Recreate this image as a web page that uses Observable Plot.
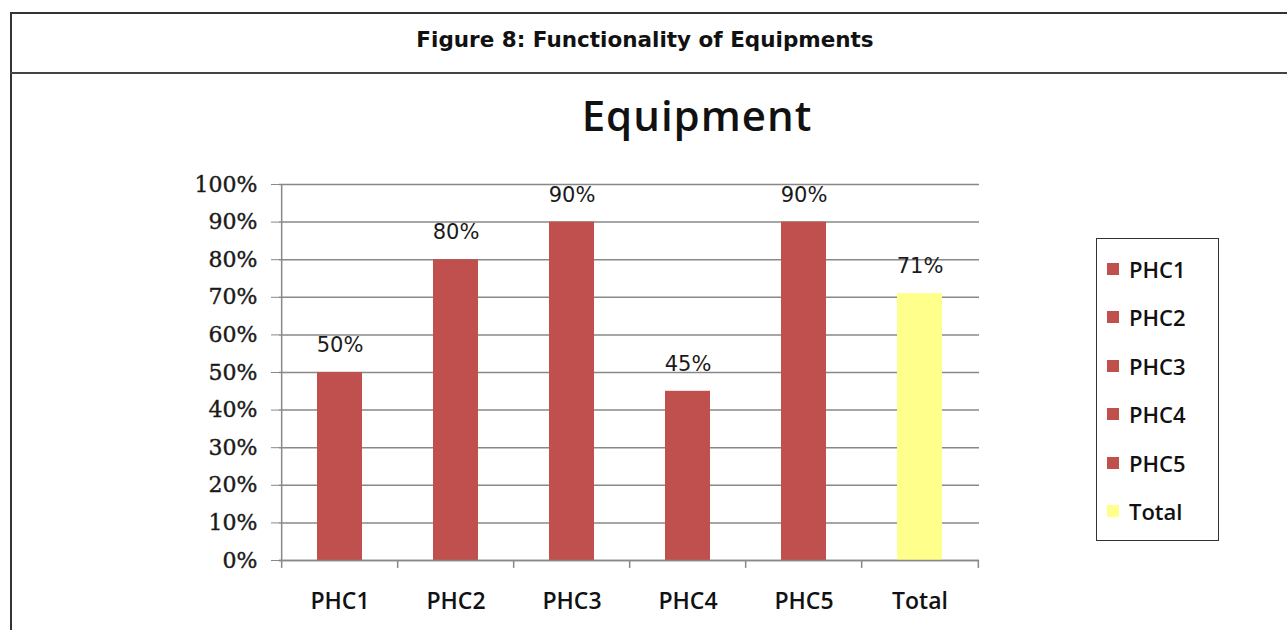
<!DOCTYPE html>
<html>
<head>
<meta charset="utf-8">
<script src="https://cdn.jsdelivr.net/npm/d3@7"></script>
<script src="https://cdn.jsdelivr.net/npm/@observablehq/plot@0.6"></script>
<style>
  html, body { margin: 0; padding: 0; background: #fff; }
  #page { position: relative; width: 1287px; height: 630px; overflow: hidden; }
  #frame { position: absolute; left: 10px; top: 12px; width: 1290px; height: 640px;
           border-top: 2px solid #333; border-left: 2px solid #333; box-sizing: border-box; }
  #header { position: absolute; left: 10px; top: 12px; width: 1290px; height: 62px;
            border-bottom: 2px solid #444; box-sizing: border-box; }
  #header span { position: absolute; left: 0; width: 1270px; top: 15px; text-align: center;
                 font-family: "DejaVu Sans", sans-serif; font-weight: bold; font-size: 21.5px; color: #111; }
  #title { position: absolute; left: 497px; width: 400px; top: 86px; text-align: center;
           font-family: "Open Sans", sans-serif; font-weight: 600; font-size: 42px; letter-spacing: 1px; color: #111; }
  #chart { position: absolute; left: 0; top: 75px; }
  #legend { position: absolute; left: 1096px; top: 238px; width: 123px; height: 303px;
            border: 1.5px solid #333; box-sizing: border-box; }
  .item { position: absolute; left: 10px; height: 24px; display: flex; align-items: center;
          font-family: "Open Sans", sans-serif; font-weight: 600; font-size: 22px; color: #111; }
  .sw { width: 12px; height: 12px; margin-right: 10px; }
</style>
</head>
<body>
<div id="page">
  <div id="frame"></div>
  <div id="header"><span>Figure 8: Functionality of Equipments</span></div>
  <div id="title">Equipment</div>
  <div id="chart"></div>
  <div id="legend"></div>
</div>
<script>
const categories = ["PHC1", "PHC2", "PHC3", "PHC4", "PHC5", "Total"];
const values = [50, 80, 90, 45, 90, 71];
const colors = ["#C0504D", "#C0504D", "#C0504D", "#C0504D", "#C0504D", "#FFFF8C"];
const yTicks = [0, 10, 20, 30, 40, 50, 60, 70, 80, 90, 100];

const data = categories.map((c, i) => ({cat: c, value: values[i], color: colors[i]}));
const bw = 700 / categories.length;

const chart = Plot.plot({
  width: 1287,
  height: 555,
  marginTop: 109,
  marginBottom: 70,
  marginLeft: 279,
  marginRight: 308,
  style: {background: "transparent", overflow: "visible"},
  x: {domain: categories, paddingInner: 0.614, paddingOuter: 0.307, label: null},
  y: {domain: [0, 100], label: null},
  marks: [
    Plot.gridY(yTicks, {stroke: "#888", strokeOpacity: 1, strokeWidth: 1.5}),
    Plot.axisY(yTicks, {tickFormat: d => d + "%", tickSize: 8, tickPadding: 14, stroke: "#888",
      fontSize: 22, fontFamily: "DejaVu Serif", fill: "#1a1a1a", label: null,
      textStroke: "#1a1a1a", textStrokeWidth: 0.4}),
    Plot.barY(data, {x: "cat", y: "value", fill: "color"}),
    Plot.ruleY([0], {stroke: "#888", strokeWidth: 1.5, dx: 0}),
    Plot.ruleX([categories[0]], {x: d => d, dx: -bw / 2, y1: 0, y2: 100, stroke: "#888", strokeWidth: 1.5}),
    Plot.ruleX(categories, {x: d => d, dx: -bw / 2, y1: 0, y2: -2.1, stroke: "#888", strokeWidth: 1.5}),
    Plot.ruleX([categories[categories.length - 1]], {x: d => d, dx: bw / 2, y1: 0, y2: -2.1, stroke: "#888", strokeWidth: 1.5}),
    Plot.text(data, {x: "cat", y: "value", text: d => d.value + "%", dy: -27, fontSize: 21,
      fontFamily: "DejaVu Sans", fill: "#1a1a1a"}),
    Plot.axisX({tickSize: 0, tickPadding: 32, fontSize: 23, fontFamily: "Open Sans", fontWeight: 600,
      fill: "#111", label: null})
  ]
});
document.getElementById("chart").appendChild(chart);

const legend = document.getElementById("legend");
categories.forEach((c, i) => {
  const it = document.createElement("div");
  it.className = "item";
  it.style.top = (30 - 12 + i * 48.4) + "px";
  const sw = document.createElement("div");
  sw.className = "sw";
  sw.style.background = colors[i];
  it.appendChild(sw);
  it.appendChild(document.createTextNode(c));
  legend.appendChild(it);
});
</script>
</body>
</html>
